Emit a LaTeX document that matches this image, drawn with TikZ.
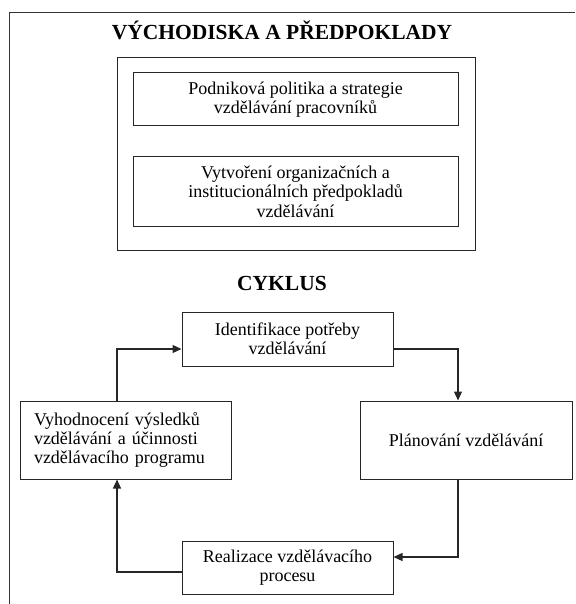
\documentclass[tikz,border=0pt]{standalone}
\usepackage{fontspec}
\setmainfont{Liberation Serif}
\usetikzlibrary{arrows.meta}
\begin{document}
\begin{tikzpicture}[x=1pt,y=-1pt,
  box/.style={draw=black!85, line width=1pt, inner sep=0pt, align=center, font=\fontsize{18}{19.4}\selectfont},
  conn/.style={draw=black!85, line width=1.1pt, -{Triangle[length=9pt,width=8pt]}},
  ttl/.style={font=\fontsize{21.5}{24}\selectfont\bfseries, inner sep=0pt, anchor=base},
  frameline/.style={draw=black!80, line width=1pt}]
\useasboundingbox (0,0) rectangle (575,604);
\coordinate (fa) at (9,604);
\coordinate (fb) at (9,13);
\coordinate (fc) at (575,13);
\draw[frameline] (fa) -- (fb) -- (fc);
\node[ttl] (t1) at (282,40) {VÝCHODISKA A PŘEDPOKLADY};
\node[box, minimum width=358pt, minimum height=192pt] (outer) at (296,154) {};
\node[box, minimum width=325pt, minimum height=53pt] (b1) at (295.5,99.5) {Podniková politika a strategie\\vzdělávání pracovníků};
\node[box, minimum width=325pt, minimum height=69pt] (b2) at (295.5,191.5) {Vytvoření organizačních a\\institucionálních předpokladů\\vzdělávání};
\node[ttl] (t2) at (282,290) {CYKLUS};
\node[box, minimum width=211pt, minimum height=54pt] (top) at (287.5,339) {Identifikace potřeby\\vzdělávání};
\node[box, minimum width=212pt, minimum height=78pt] (right) at (466,440) {Plánování vzdělávání};
\node[box, minimum width=211pt, minimum height=78pt, text width=183pt, align=left] (left) at (125.5,440) {Vyhodnocení výsledků\\vzdělávání a účinnosti\\vzdělávacího programu};
\node[box, minimum width=211pt, minimum height=53pt] (bottom) at (287.5,567.5) {Realizace vzdělávacího\\procesu};
\draw[conn] ([xshift=-8.5pt]left.north) |- ([yshift=-10pt]top.west);
\draw[conn] ([yshift=-10pt]top.east) -| ([xshift=-8pt]right.north);
\draw[conn] ([xshift=-8pt]right.south) |- ([yshift=10.5pt]bottom.east);
\draw[conn] ([yshift=-4.5pt]bottom.west) -| ([xshift=-8.5pt]left.south);
\end{tikzpicture}
\end{document}
